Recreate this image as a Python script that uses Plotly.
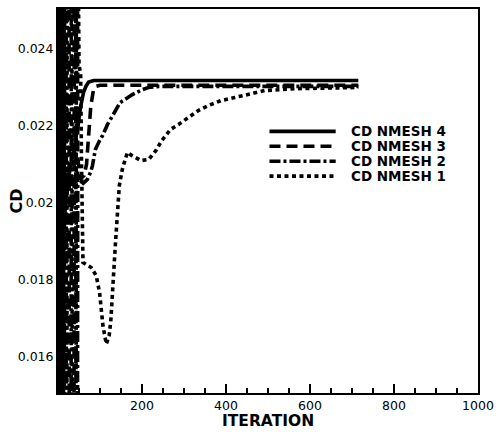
import plotly.graph_objects as go

# ---- convergence history of the drag coefficient on four meshes ----
# Start-up transients swing far beyond the axis range; those swings are clipped.

# NMESH 4 (finest)
it4 = [0, 1, 2, 3, 4, 5, 6, 7, 8, 9, 10, 11, 12, 13, 14,
       15, 20, 26, 33, 40, 47, 54, 61, 67, 73, 85, 715]
cd4 = [0.0310, 0.0100, 0.0305, 0.0105, 0.0300, 0.0110, 0.0298, 0.0115, 0.0295, 0.0120,
       0.0290, 0.0125, 0.0285, 0.0130, 0.0280,
       0.0196, 0.0202, 0.0207, 0.0211, 0.0215, 0.02195, 0.0225, 0.02287, 0.02303,
       0.02313, 0.02317, 0.02317]

# NMESH 3
it3 = [10, 11, 15, 16, 26, 27, 38, 39, 46, 47,
       52, 62, 68, 73, 78, 84, 90, 100, 715]
cd3 = [0.0320, 0.0095, 0.0095, 0.0320, 0.0320, 0.0095, 0.0095, 0.0320, 0.0320, 0.0212,
       0.0206, 0.0207, 0.0210, 0.0218, 0.0225, 0.0229, 0.02302, 0.02305, 0.02305]

# NMESH 2
it2 = [12, 13, 19, 20, 31, 32, 42, 43, 46, 47,
       50, 60, 70, 78, 82, 89, 99, 106, 118, 125, 136, 148, 162, 176, 200, 215, 240, 715]
cd2 = [0.0095, 0.0320, 0.0320, 0.0095, 0.0095, 0.0320, 0.0320, 0.0095, 0.0095, 0.0208,
       0.0206, 0.0205, 0.0206, 0.0208, 0.02096, 0.02138, 0.02161, 0.02174, 0.02203,
       0.02216, 0.0224, 0.0226, 0.0227, 0.0228, 0.02293, 0.02299, 0.02302, 0.02302]

# NMESH 1 (coarsest)
it1 = [8, 9, 21, 22, 33, 34, 43, 44, 50, 54, 56,
       59.5, 79, 91, 99, 103, 107, 115, 122, 126, 129, 134, 138, 142, 146, 153,
       165, 176, 198, 216, 233, 247, 268, 287, 311, 334, 358, 388, 421, 452,
       492, 569, 715]
cd1 = [0.0320, 0.0095, 0.0095, 0.0320, 0.0320, 0.0095, 0.0095, 0.0320, 0.0236, 0.0233, 0.0210,
       0.01844, 0.01831, 0.0181, 0.01766, 0.01723, 0.0168, 0.01632, 0.01655, 0.01697,
       0.01766, 0.01844, 0.01914, 0.01974, 0.02044, 0.02086,
       0.0213, 0.02122, 0.02109, 0.02112, 0.02135, 0.02161, 0.0219, 0.02203, 0.02221,
       0.02239, 0.02252, 0.02265, 0.02273, 0.0228,
       0.02291, 0.02296, 0.02299]

names = ["CD NMESH 4", "CD NMESH 3", "CD NMESH 2", "CD NMESH 1"]
x_ticks = [200, 400, 600, 800, 1000]
y_ticks = [0.016, 0.018, 0.020, 0.022, 0.024]
y_labels = ["0.016", "0.018", "0.02", "0.022", "0.024"]

dashes = ["solid", "11px,6px", "11px,3px,3px,3px", "4px,3.5px"]
LW = 3.6

fig = go.Figure()
for xs, ys, nm, ds in zip([it4, it3, it2, it1], [cd4, cd3, cd2, cd1], names, dashes):
    fig.add_trace(go.Scatter(x=xs, y=ys, mode="lines", name=nm, showlegend=False,
                             line=dict(color="black", width=LW, dash=ds)))

# plot area in pixels: x 58..483, y 7..393
L, R, T, B = 58, 483, 7, 393
def px(xp):
    return (xp - L) / (R - L)
def py(yp):
    return (B - yp) / (B - T)

# legend drawn by hand so the line samples are long
leg_y = [130, 145, 160, 175]
shapes = []
annos = []
for yy, nm, ds in zip(leg_y, names, dashes):
    shapes.append(dict(type="line", xref="paper", yref="paper",
                       x0=px(272), x1=px(339), y0=py(yy), y1=py(yy),
                       line=dict(color="black", width=LW, dash=ds)))
    annos.append(dict(text=nm, xref="paper", yref="paper", x=px(352), y=py(yy),
                      xanchor="left", yanchor="middle", showarrow=False,
                      font=dict(family="DejaVu Sans", size=13.5, color="black", weight="bold")))

annos.append(dict(text="ITERATION", xref="paper", yref="paper", x=0.5, y=py(421),
                  xanchor="center", yanchor="middle", showarrow=False,
                  font=dict(family="DejaVu Sans", size=15.5, color="black", weight="bold")))
annos.append(dict(text="CD", xref="paper", yref="paper", x=px(16), y=py(200),
                  xanchor="center", yanchor="middle", showarrow=False, textangle=-90,
                  font=dict(family="DejaVu Sans", size=16, color="black", weight="bold")))

axis_common = dict(showgrid=False, zeroline=False, showline=True, linecolor="black",
                   linewidth=2, mirror=True, ticks="inside", tickcolor="black",
                   tickwidth=1.5, ticklen=9,
                   tickfont=dict(family="DejaVu Sans", size=12.5, color="black"))

fig.update_layout(
    width=501, height=436,
    margin=dict(l=L, r=501 - R, t=T, b=436 - B, pad=0),
    paper_bgcolor="white", plot_bgcolor="white",
    xaxis=dict(range=[0, 1000], tickvals=x_ticks, ticktext=[str(v) for v in x_ticks],
               minor=dict(dtick=50, tick0=0, ticks="inside", ticklen=5, tickwidth=1.5,
                          tickcolor="black"),
               **axis_common),
    yaxis=dict(range=[0.01505, 0.02503], tickvals=y_ticks, ticktext=y_labels,
               minor=dict(dtick=0.0005, tick0=0, ticks="inside", ticklen=5, tickwidth=1.5,
                          tickcolor="black"),
               **axis_common),
    shapes=shapes,
    annotations=annos,
    showlegend=False,
)

fig.write_html("out.html")
